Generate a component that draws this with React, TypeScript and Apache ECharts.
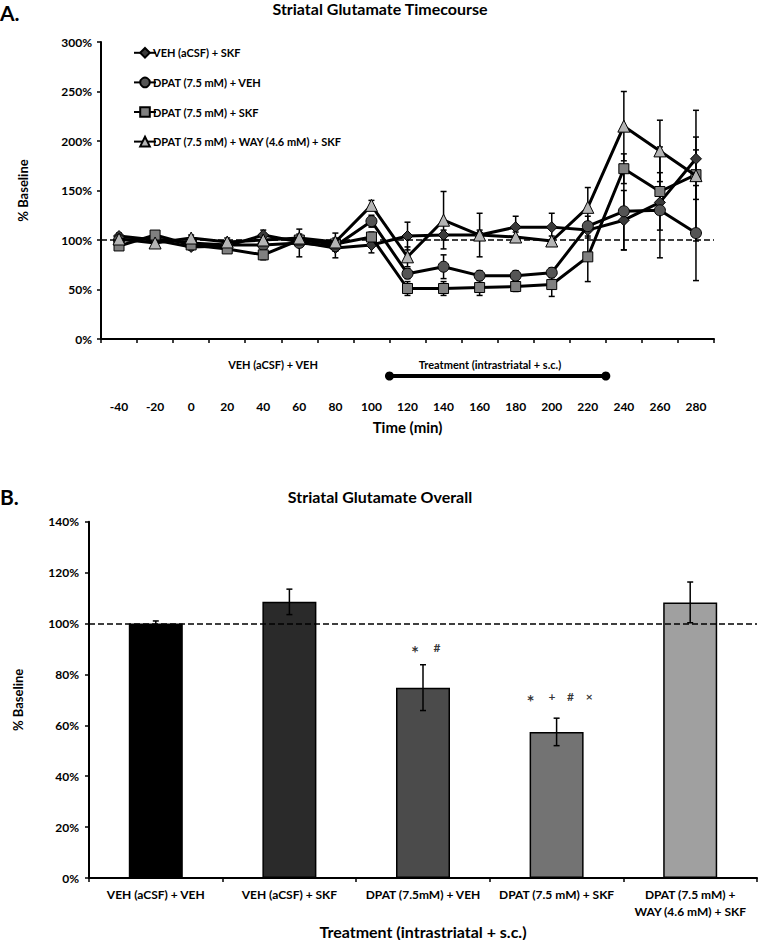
import React, { useEffect, useRef } from 'react';
import * as echarts from 'echarts';

// ---------- Panel A data ----------
const times = ['-40', '-20', '0', '20', '40', '60', '80', '100', '120', '140', '160', '180', '200', '220', '240', '260', '280'];
const yTicksA = [0, 50, 100, 150, 200, 250, 300];

const vehSkf = [104, 100, 93, 94, 105, 98, 92, 95, 104, 105, 105, 113, 113, 110, 120, 138, 182];
const vehSkfErr = [3, 3, 3, 3, 5, 4, 10, 8, 14, 5, 5, 11, 14, 8, 30, 56, 22];

const dpatVeh = [100, 101, 97, 95, 95, 97, 94, 119, 66, 73, 64, 64, 67, 114, 129, 130, 107];
const dpatVehErr = [2, 3, 3, 4, 4, 14, 5, 6, 5, 12, 5, 5, 5, 10, 39, 20, 48];

const dpatSkf = [94, 105, 95, 91, 85, 100, 96, 103, 51, 51, 52, 53, 55, 83, 172, 149, 166];
const dpatSkfErr = [3, 3, 3, 3, 5, 3, 3, 5, 7, 7, 8, 5, 12, 25, 15, 19, 25];

const wayAll = [101, 97, 102, 98, 100, 102, 98, 135, 83, 120, 105, 103, 99, 133, 215, 190, 165];
const wayAllErr = [3, 3, 3, 4, 4, 4, 9, 5, 10, 29, 22, 5, 5, 20, 35, 31, 66];

const seriesNamesA = [
  'VEH (aCSF) + SKF',
  'DPAT (7.5 mM) + VEH',
  'DPAT (7.5 mM) + SKF',
  'DPAT (7.5 mM) + WAY (4.6 mM) + SKF',
];
const treatmentSpan = [110, 230];

// ---------- Panel B data ----------
const groupsB = [
  'VEH (aCSF) + VEH',
  'VEH (aCSF) + SKF',
  'DPAT (7.5mM) + VEH',
  'DPAT (7.5 mM) + SKF',
  'DPAT (7.5 mM) +\nWAY (4.6 mM) + SKF',
];
const overall = [100, 108.5, 74.8, 57.4, 108.3];
const overallErr = [1, 5, 9, 5.4, 8];
const barColors = ['#000000', '#2a2a2a', '#4b4b4b', '#737373', '#a0a0a0'];
// [category index, height (%), asterisk mark, other marks]
const sigMarks: [number, number, string, string][] = [
  [2, 90.4, '*', '#'],
  [3, 71.2, '*', '+    #    ×'],
];
const asteriskShift = [-8, -26];

const FONT = 'Lato, "Open Sans", Roboto, sans-serif';

function errRender(capW: number) {
  return (params: any, api: any) => {
    const x = api.value(0);
    const lo = api.coord([x, api.value(1)]);
    const hi = api.coord([x, api.value(2)]);
    const style = { stroke: '#000', lineWidth: 1.5 };
    return {
      type: 'group',
      children: [
        { type: 'line', shape: { x1: lo[0], y1: lo[1], x2: hi[0], y2: hi[1] }, style },
        { type: 'line', shape: { x1: lo[0] - capW, y1: lo[1], x2: lo[0] + capW, y2: lo[1] }, style },
        { type: 'line', shape: { x1: hi[0] - capW, y1: hi[1], x2: hi[0] + capW, y2: hi[1] }, style },
      ],
    };
  };
}

export default function App() {
  const ref = useRef<HTMLDivElement>(null);

  useEffect(() => {
    if (!ref.current) return;
    const chart = echarts.init(ref.current, undefined, { renderer: 'svg' });

    const axisLine = { show: true, lineStyle: { color: '#000', width: 2 } };
    const axisTick = { show: true, inside: false, length: 4, lineStyle: { color: '#000', width: 1.5 } };
    const labelStyle = { color: '#000', fontFamily: FONT, fontWeight: 'bold' as const, fontSize: 12 };
    const dashed = {
      silent: true,
      symbol: 'none',
      label: { show: false },
      lineStyle: { type: 'dashed', color: '#000', width: 1.5 },
      data: [{ yAxis: 100 }],
    };

    const lineData = [vehSkf, dpatVeh, dpatSkf, wayAll];
    const errData = [vehSkfErr, dpatVehErr, dpatSkfErr, wayAllErr];
    const symbols = ['diamond', 'circle', 'rect', 'triangle'];
    const symbolSizes = [11, 11, 10, 12];
    const fills = ['#3a3a3a', '#555555', '#808080', '#b4b4b4'];

    const lineSeries: any[] = lineData.map((d, k) => ({
      name: seriesNamesA[k],
      type: 'line',
      xAxisIndex: 0,
      yAxisIndex: 0,
      data: d,
      symbol: symbols[k],
      symbolSize: symbolSizes[k],
      lineStyle: { color: '#000', width: 3 },
      itemStyle: { color: fills[k], borderColor: '#000', borderWidth: 1 },
      z: 3 + k,
    }));

    const errSeries: any[] = lineData.map((d, k) => ({
      type: 'custom',
      xAxisIndex: 0,
      yAxisIndex: 0,
      renderItem: errRender(3),
      encode: { x: 0, y: [1, 2] },
      data: d.map((v, i) => [i, v - errData[k][i], v + errData[k][i]]),
      z: 2,
      silent: true,
      markLine: k === 0 ? dashed : undefined,
    }));

    const markLabel = {
      show: true,
      position: 'inside',
      color: '#000',
      fontFamily: FONT,
      fontWeight: 'bold',
    };

    const option: any = {
      animation: false,
      backgroundColor: '#fff',
      textStyle: { fontFamily: FONT },
      title: [
        {
          text: 'Striatal Glutamate Timecourse',
          left: 380,
          top: 0,
          padding: 0,
          textAlign: 'center',
          textStyle: { fontFamily: FONT, fontWeight: 'bold', fontSize: 16, color: '#000' },
        },
        {
          text: 'Striatal Glutamate Overall',
          left: 380,
          top: 488,
          padding: 0,
          textAlign: 'center',
          textStyle: { fontFamily: FONT, fontWeight: 'bold', fontSize: 16, color: '#000' },
        },
      ],
      graphic: [
        { type: 'text', left: 0, top: 2, style: { text: 'A.', font: `bold 21px ${FONT}`, fill: '#000' } },
        { type: 'text', left: 0, top: 486, style: { text: 'B.', font: `bold 21px ${FONT}`, fill: '#000' } },
        {
          type: 'text',
          x: 273,
          y: 364,
          style: { text: 'VEH (aCSF) + VEH', font: `bold 11px ${FONT}`, fill: '#000', textAlign: 'center', textVerticalAlign: 'middle' },
        },
        {
          type: 'text',
          x: 490,
          y: 364,
          style: { text: 'Treatment (intrastriatal + s.c.)', font: `bold 11px ${FONT}`, fill: '#000', textAlign: 'center', textVerticalAlign: 'middle' },
        },
      ],
      legend: {
        data: seriesNamesA,
        orient: 'vertical',
        left: 128,
        top: 42,
        itemWidth: 22,
        itemHeight: 12,
        itemGap: 18,
        textStyle: { fontFamily: FONT, fontWeight: 'bold', fontSize: 11, color: '#000', padding: [0, 0, 0, -8] },
        selectedMode: false,
      },
      grid: [
        { left: 101, right: 44, top: 42, height: 297 },
        { left: 101, right: 44, top: 370, height: 12 },
        { left: 89, right: 1, top: 521.7, height: 356.8 },
      ],
      xAxis: [
        {
          gridIndex: 0,
          type: 'category',
          data: times,
          boundaryGap: true,
          axisLine,
          axisTick: { ...axisTick, alignWithLabel: false },
          axisLabel: { ...labelStyle, margin: 61, interval: 0 },
          name: 'Time (min)',
          nameLocation: 'middle',
          nameGap: 80,
          nameTextStyle: { ...labelStyle, fontSize: 15 },
        },
        {
          gridIndex: 1,
          type: 'value',
          min: -50,
          max: 290,
          show: false,
        },
        {
          gridIndex: 2,
          type: 'category',
          data: groupsB,
          axisLine,
          axisTick: { ...axisTick, alignWithLabel: false },
          axisLabel: { ...labelStyle, margin: 8, interval: 0, lineHeight: 17 },
          name: 'Treatment (intrastriatal + s.c.)',
          nameLocation: 'middle',
          nameGap: 45,
          nameTextStyle: { ...labelStyle, fontSize: 16 },
        },
      ],
      yAxis: [
        {
          gridIndex: 0,
          type: 'value',
          min: 0,
          max: 300,
          interval: 50,
          axisLine,
          axisTick,
          splitLine: { show: false },
          axisLabel: { ...labelStyle, margin: 9, formatter: (v: number) => (yTicksA.includes(v) ? `${v}%` : '') },
          name: '% Baseline',
          nameLocation: 'middle',
          nameGap: 72,
          nameTextStyle: { ...labelStyle, fontSize: 13 },
        },
        { gridIndex: 1, type: 'value', min: -1, max: 1, show: false },
        {
          gridIndex: 2,
          type: 'value',
          min: 0,
          max: 140,
          interval: 20,
          axisLine,
          axisTick,
          splitLine: { show: false },
          axisLabel: { ...labelStyle, margin: 10, formatter: '{value}%' },
          name: '% Baseline',
          nameLocation: 'middle',
          nameGap: 65,
          nameTextStyle: { ...labelStyle, fontSize: 13 },
        },
      ],
      series: [
        ...errSeries,
        ...lineSeries,
        {
          type: 'line',
          xAxisIndex: 1,
          yAxisIndex: 1,
          data: [
            [treatmentSpan[0], 0],
            [treatmentSpan[1], 0],
          ],
          symbol: 'circle',
          symbolSize: 9,
          lineStyle: { color: '#000', width: 4 },
          itemStyle: { color: '#000' },
          silent: true,
        },
        {
          type: 'bar',
          xAxisIndex: 2,
          yAxisIndex: 2,
          barWidth: 54,
          data: overall.map((v, i) => ({
            value: v,
            itemStyle: { color: barColors[i], borderColor: '#000', borderWidth: 1.5 },
          })),
          z: 2,
        },
        {
          type: 'custom',
          xAxisIndex: 2,
          yAxisIndex: 2,
          renderItem: errRender(3),
          encode: { x: 0, y: [1, 2] },
          data: overall.map((v, i) => [i, v - overallErr[i], v + overallErr[i]]),
          z: 4,
          silent: true,
          markLine: dashed,
        },
        {
          type: 'scatter',
          xAxisIndex: 2,
          yAxisIndex: 2,
          symbolSize: 1,
          itemStyle: { color: 'rgba(0,0,0,0)' },
          data: sigMarks.map((m, i) => ({
            value: [m[0], m[1]],
            label: { formatter: m[2], offset: [asteriskShift[i], 5] },
          })),
          label: { ...markLabel, fontSize: 19 },
          silent: true,
          z: 5,
        },
        {
          type: 'scatter',
          xAxisIndex: 2,
          yAxisIndex: 2,
          symbolSize: 1,
          itemStyle: { color: 'rgba(0,0,0,0)' },
          data: sigMarks.map((m) => ({
            value: [m[0], m[1]],
            label: { formatter: m[3], offset: [14, 0] },
          })),
          label: { ...markLabel, fontSize: 12 },
          silent: true,
          z: 5,
        },
      ],
    };

    chart.setOption(option);
    return () => chart.dispose();
  }, []);

  return <div ref={ref} style={{ position: 'fixed', left: 0, top: 0, width: 758, height: 940, background: '#fff' }} />;
}
